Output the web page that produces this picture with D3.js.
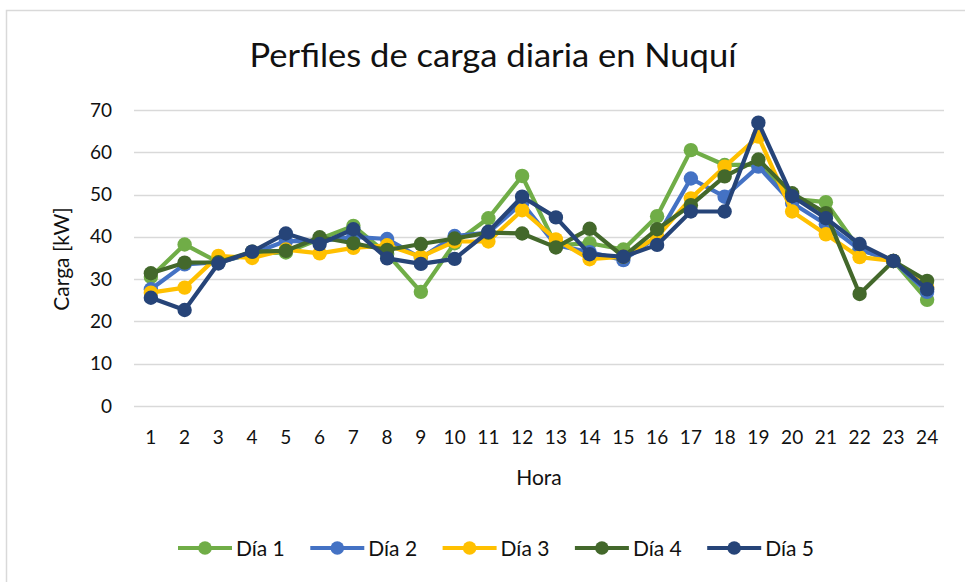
<!DOCTYPE html>
<html>
<head>
<meta charset="utf-8">
<script src="https://cdn.jsdelivr.net/npm/d3@7"></script>
<style>
  body { margin: 0; background: #fff; }
  svg { display: block; font-family: Lato, "Open Sans", sans-serif; }
</style>
</head>
<body>
<svg id="chart" width="965" height="582"></svg>
<script>
const horas = d3.range(1, 25).map(String)
const dia1 = [30.5, 38.2, 34, 36, 36.3, 39.5, 42.6, 36, 27.0, 38.5, 44.4, 54.4, 38, 38.5, 37, 44.9, 60.5, 57, 57, 49, 48.2, 37, 34.3, 25.1]
const dia2 = [27.6, 33.5, 34, 36, 39, 39, 40, 39.5, 35, 40.2, 41, 48, 38, 36.4, 34.5, 40, 53.8, 49.5, 56.6, 48, 43, 37, 34.3, 27]
const dia3 = [26.8, 28, 35.5, 35, 37, 36.1, 37.4, 38, 35.3, 38.9, 38.9, 46.3, 39.4, 34.7, 35.3, 40, 49.1, 56.6, 63.7, 46, 40.6, 35.2, 34.3, 28]
const dia4 = [31.4, 33.9, 34, 36.5, 36.7, 39.9, 38.5, 36.9, 38.3, 39.6, 41, 40.8, 37.5, 41.9, 35.3, 41.8, 47.5, 54.3, 58.3, 50.3, 45.6, 26.5, 34.3, 29.6]
const dia5 = [25.6, 22.7, 33.7, 36.5, 40.8, 38.3, 41.8, 34.9, 33.6, 34.8, 41.2, 49.5, 44.6, 35.9, 35.3, 38.1, 46, 46, 67, 49.6, 44.4, 38.3, 34.3, 27.6]
const yTicks = [0, 10, 20, 30, 40, 50, 60, 70]

const series = [
  { name: "Día 1", values: dia1, color: "#70ad47" },
  { name: "Día 2", values: dia2, color: "#4472c4" },
  { name: "Día 3", values: dia3, color: "#ffc000" },
  { name: "Día 4", values: dia4, color: "#43682b" },
  { name: "Día 5", values: dia5, color: "#264478" }
]

const svg = d3.select("#chart")

// chart frame
svg.append("rect")
  .attr("x", 6.5).attr("y", 10.5)
  .attr("width", 970).attr("height", 600)
  .attr("fill", "#fff").attr("stroke", "#d9d9d9").attr("stroke-width", 1.5)

const x = d3.scaleBand().domain(horas).range([134, 944])
const y = d3.scaleLinear().domain([0, 70]).range([406, 110])

// gridlines
svg.append("g")
  .selectAll("line")
  .data(yTicks)
  .join("line")
  .attr("x1", 134).attr("x2", 944)
  .attr("y1", d => Math.round(y(d)) + 0.5)
  .attr("y2", d => Math.round(y(d)) + 0.5)
  .attr("stroke", "#d9d9d9").attr("stroke-width", 1.3)

const yAxis = svg.append("g")
  .attr("transform", "translate(134,0)")
  .call(d3.axisLeft(y).tickValues(yTicks).tickSize(0).tickPadding(22))
yAxis.select(".domain").remove()
yAxis.selectAll("text").attr("font-size", 19).attr("fill", "#111").attr("font-family", "Lato, sans-serif")

const xAxis = svg.append("g")
  .attr("transform", "translate(0,406)")
  .call(d3.axisBottom(x).tickSize(0).tickPadding(25))
xAxis.select(".domain").remove()
xAxis.selectAll("text").attr("font-size", 19).attr("fill", "#111").attr("font-family", "Lato, sans-serif")

const line = d3.line()
  .x((d, i) => x(horas[i]) + x.bandwidth() / 2)
  .y(d => y(d))

series.forEach(s => {
  const g = svg.append("g")
  g.append("path")
    .attr("d", line(s.values))
    .attr("fill", "none")
    .attr("stroke", s.color)
    .attr("stroke-width", 4.2)
    .attr("stroke-linejoin", "round")
  g.selectAll("circle")
    .data(s.values)
    .join("circle")
    .attr("cx", (d, i) => x(horas[i]) + x.bandwidth() / 2)
    .attr("cy", d => y(d))
    .attr("r", 7.2)
    .attr("fill", s.color)
})

// title
svg.append("text")
  .attr("x", 493).attr("y", 67)
  .attr("text-anchor", "middle")
  .attr("font-size", 33)
  .attr("fill", "#111")
  .attr("textLength", 487)
  .attr("lengthAdjust", "spacingAndGlyphs")
  .text("Perfiles de carga diaria en Nuquí")

svg.append("text")
  .attr("x", 539).attr("y", 485)
  .attr("text-anchor", "middle")
  .attr("font-size", 21)
  .attr("fill", "#111")
  .text("Hora")

svg.append("text")
  .attr("transform", "translate(69,259) rotate(-90)")
  .attr("text-anchor", "middle")
  .attr("font-size", 21)
  .attr("fill", "#111")
  .text("Carga [kW]")

// legend
const legend = svg.append("g")
  .selectAll("g")
  .data(series)
  .join("g")
  .attr("transform", (d, i) => `translate(${178 + i * 132.3},548)`)
legend.append("line")
  .attr("x1", 0).attr("x2", 54)
  .attr("stroke", d => d.color).attr("stroke-width", 4.2)
legend.append("circle")
  .attr("cx", 27).attr("r", 6.8)
  .attr("fill", d => d.color)
legend.append("text")
  .attr("x", 58).attr("y", 7.5)
  .attr("font-size", 21)
  .attr("fill", "#111")
  .text(d => d.name)
</script>
</body>
</html>
